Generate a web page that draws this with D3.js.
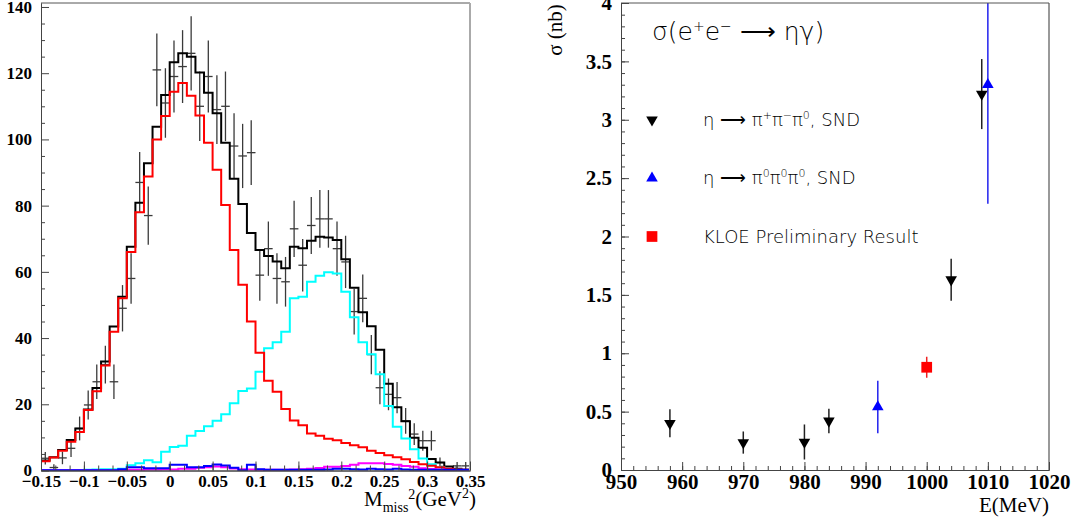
<!DOCTYPE html>
<html>
<head>
<meta charset="utf-8">
<script src="https://cdn.jsdelivr.net/npm/d3@7"></script>
<style>
body { margin: 0; background: #fff; }
svg { display: block; }
.title, .leg { font-family: "DejaVu Sans", sans-serif; font-weight: 200; fill: #000; }
.axlabel { font-family: "Liberation Serif", "Times New Roman", serif; fill: #000; }
</style>
</head>
<body>
<svg id="chart" width="1079" height="527"></svg>
<script>
// left panel: missing mass squared, 50 bins of 0.01 GeV^2
var massEdges = d3.range(50).map(function (i) { return Math.round((-0.15 + i * 0.01) * 100) / 100; });
var binWidth = 0.01;

// data points + errors
var dataCounts = [3.7, 0.9, 3.8, 6.7, 12.7, 19.8, 26.8, 32.0, 26.8, 49.0,
    58.0, 87.0, 77.0, 121.0, 111.0, 119.0, 122.0, 126.0, 110.0, 119.0,
    109.0, 110.0, 98.0, 95.0, 96.0, 59.0, 67.0, 58.0, 57.0, 73.0,
    62.0, 74.0, 76.0, 76.0, 67.0, 63.0, 48.0, 52.0, 35.0, 25.0,
    23.0, 22.0, 15.0, 11.0, 9.0, 9.0, 2.4, null, 1.4, 1.4];
var dataErrors = [1.9, 1.0, 1.9, 2.6, 3.6, 4.4, 5.2, 5.7, 5.2, 7.0,
    7.6, 9.2, 8.8, 11.0, 10.5, 10.9, 11.0, 11.2, 10.5, 10.9,
    10.4, 10.5, 9.9, 9.7, 9.8, 7.7, 8.2, 7.6, 7.5, 8.5,
    7.9, 8.6, 8.7, 8.7, 8.2, 7.9, 6.9, 7.2, 5.9, 5.0,
    4.8, 4.7, 3.9, 3.3, 3.0, 3.0, 1.5, 0, 1.2, 1.2];

// MC histograms
var totalMC = [3.0, 4.0, 6.2, 9.2, 12.7, 18.4, 24.9, 32.9, 43.5, 52.5,
    67.6, 80.9, 92.8, 103.8, 113.4, 123.3, 126.0, 125.0, 120.2, 114.1,
    107.9, 99.0, 88.1, 80.5, 71.7, 66.6, 64.8, 63.1, 61.1, 67.6,
    67.1, 69.4, 70.6, 70.4, 69.6, 63.8, 55.2, 47.8, 43.6, 36.5,
    26.2, 19.1, 14.9, 9.9, 6.9, 3.5, 2.4, 1.2, 0.5, 0.2];
var redMC = [2.8, 3.9, 6.0, 8.7, 11.6, 18.3, 23.9, 31.7, 41.9, 52.0,
    66.0, 78.0, 88.8, 100.0, 107.1, 114.4, 117.0, 113.2, 107.2, 99.0,
    90.8, 80.2, 66.6, 56.1, 45.0, 35.6, 27.1, 23.8, 18.6, 15.1,
    13.7, 11.2, 10.5, 9.6, 9.1, 8.3, 7.6, 7.0, 6.0, 5.3,
    4.6, 4.0, 3.4, 2.6, 1.9, 1.4, 1.0, 0.5, 0.3, 0.2];
var cyanMC = [0.1, 0.1, 0.1, 0.1, 0.1, 0.2, 0.3, 0.4, 0.4, 0.5,
    1.6, 2.2, 3.1, 2.5, 5.7, 7.1, 7.5, 10.5, 11.9, 13.4,
    15.0, 17.0, 20.3, 24.0, 24.8, 29.8, 36.9, 38.7, 41.9, 52.0,
    52.5, 57.0, 58.8, 59.9, 59.5, 54.0, 46.3, 38.7, 35.1, 29.1,
    19.5, 13.2, 9.7, 6.4, 3.6, 1.9, 1.0, 0.4, 0.2, 0.1];
var magentaMC = [0.05, 0.05, 0.05, 0.05, 0.05, 0.05, 0.05, 0.05, 0.05, 0.05,
    0.2, 0.2, 0.3, 0.3, 0.4, 0.3, 0.5, 0.5, 0.8, 1.0,
    1.2, 1.0, 0.6, 0.4, 0.3, 0.2, 0.2, 0.2, 0.2, 0.3,
    0.4, 0.5, 0.75, 1.15, 1.15, 1.35, 1.7, 2.2, 2.2, 2.2,
    2.0, 1.7, 1.35, 1.15, 0.65, 0.45, 0.3, 0.15, 0.1, 0.05];
var blueMC = [0.05, 0.05, 0.05, 0.05, 0.05, 0.05, 0.05, 0.05, 0.05, 0.4,
    1.0, 1.0, 0.7, 0.7, 0.7, 1.7, 1.7, 1.0, 1.0, 1.35,
    1.8, 1.5, 0.8, 0.1, 1.7, 0.4, 0.2, 0.2, 0.2, 0.2,
    0.2, 0.2, 0.2, 0.3, 0.5, 0.5, 0.4, 0.3, 0.5, 0.4,
    0.3, 0.5, 0.3, 0.2, 0.2, 0.2, 0.2, 0.2, 0.2, 0.2];

var massTicks = [-0.15, -0.1, -0.05, 0, 0.05, 0.1, 0.15, 0.2, 0.25, 0.3, 0.35];
var countTicks = [0, 20, 40, 60, 80, 100, 120, 140];

// right panel: sigma(e+e- -> eta gamma)
var sndChargedE = [958, 970, 980, 984, 1004, 1009];
var sndChargedSigma = [0.40, 0.235, 0.24, 0.42, 1.63, 3.22];
var sndChargedErr = [0.12, 0.095, 0.15, 0.105, 0.18, 0.30];
var sndNeutralE = [992, 1010];
var sndNeutralSigma = [0.54, 3.30];
var sndNeutralErr = [0.225, 1.02];
var kloeE = [1000];
var kloeSigma = [0.88];
var kloeErr = [0.09];

var energyTicks = [950, 960, 970, 980, 990, 1000, 1010, 1020];
var sigmaTicks = [0, 0.5, 1, 1.5, 2, 2.5, 3, 3.5, 4];

var svg = d3.select("#chart");

function styleTicks(size) {
    return function (g) {
        g.selectAll("path, line").attr("stroke", "#444");
        g.selectAll("text")
            .style("font-family", "'Liberation Serif', 'Times New Roman', serif")
            .style("font-weight", "bold")
            .style("font-size", size + "px")
            .attr("fill", "#000");
    };
}

// ---------- left panel ----------
var xL = d3.scaleLinear().domain([-0.15, 0.35]).range([41, 470]);
var yL = d3.scaleLinear().domain([0, 141.2]).range([470.5, 3]);

svg.append("clipPath").attr("id", "clipL").append("rect")
    .attr("x", 41).attr("y", 3).attr("width", 429).attr("height", 468);

var left = svg.append("g");
var plotL = left.append("g").attr("clip-path", "url(#clipL)");

// data crosses
massEdges.forEach(function (e, i) {
    var v = dataCounts[i];
    if (v === null) return;
    var err = dataErrors[i];
    plotL.append("line")
        .attr("x1", xL(e + binWidth / 2)).attr("x2", xL(e + binWidth / 2))
        .attr("y1", yL(Math.max(0, v - err))).attr("y2", yL(v + err))
        .attr("stroke", "#3a3a3a").attr("stroke-width", 1.3);
    plotL.append("line")
        .attr("x1", xL(e)).attr("x2", xL(e + binWidth))
        .attr("y1", yL(v)).attr("y2", yL(v))
        .attr("stroke", "#3a3a3a").attr("stroke-width", 1.3);
});

function stepPoints(vals) {
    var pts = [[massEdges[0], 0]];
    vals.forEach(function (v, i) { pts.push([massEdges[i], v]); });
    pts.push([massEdges[massEdges.length - 1] + binWidth, vals[vals.length - 1]]);
    pts.push([massEdges[massEdges.length - 1] + binWidth, 0]);
    return pts;
}
var histLine = d3.line()
    .x(function (d) { return xL(d[0]); })
    .y(function (d) { return yL(d[1]); })
    .curve(d3.curveStepAfter);

[[totalMC, "#000000"], [cyanMC, "#00ffff"], [redMC, "#ff0000"],
 [magentaMC, "#ff00ff"], [blueMC, "#0000ff"]].forEach(function (h) {
    plotL.append("path")
        .attr("d", histLine(stepPoints(h[0])))
        .attr("fill", "none")
        .attr("stroke", h[1])
        .attr("stroke-width", 2);
});

// frame
left.append("line").attr("x1", 41).attr("x2", 470).attr("y1", 3).attr("y2", 3)
    .attr("stroke", "#555").attr("stroke-width", 1);
left.append("line").attr("x1", 470).attr("x2", 470).attr("y1", 3).attr("y2", 471)
    .attr("stroke", "#aaa").attr("stroke-width", 2);

// axes
var yMinorL = d3.range(5, 141, 5).filter(function (v) { return v % 20 !== 0; });
left.append("g").attr("transform", "translate(41,0)")
    .call(d3.axisLeft(yL).tickValues(yMinorL).tickSizeInner(-4).tickSizeOuter(0).tickFormat(""))
    .call(styleTicks(17));
left.append("g").attr("transform", "translate(41,0)")
    .call(d3.axisLeft(yL).tickValues(countTicks).tickSizeInner(-8).tickSizeOuter(0).tickPadding(9))
    .call(styleTicks(17));

var xMinorL = d3.range(-0.15, 0.35, 0.05 / 3);
left.append("g").attr("transform", "translate(0,470.5)")
    .call(d3.axisBottom(xL).tickValues(xMinorL).tickSizeInner(-5).tickSizeOuter(0).tickFormat(""))
    .call(styleTicks(17));
left.append("g").attr("transform", "translate(0,470.5)")
    .call(d3.axisBottom(xL).tickValues(massTicks).tickSizeInner(-9).tickSizeOuter(0).tickPadding(4)
        .tickFormat(function (d) { return d3.format("")(d); }))
    .call(styleTicks(17));

var lblL = left.append("text").attr("class", "axlabel")
    .attr("x", 476).attr("y", 506).attr("text-anchor", "end").style("font-size", "21px");
lblL.append("tspan").text("M");
lblL.append("tspan").attr("dy", 6).style("font-size", "14px").text("miss");
lblL.append("tspan").attr("dy", -13).style("font-size", "14px").text("2");
lblL.append("tspan").attr("dy", 7).text("(GeV");
lblL.append("tspan").attr("dy", -8).style("font-size", "14px").text("2");
lblL.append("tspan").attr("dy", 8).text(")");

// ---------- right panel ----------
var xR = d3.scaleLinear().domain([950, 1020]).range([621, 1049]);
var yR = d3.scaleLinear().domain([0, 4]).range([470, 3]);

svg.append("clipPath").attr("id", "clipR").append("rect")
    .attr("x", 621).attr("y", 3).attr("width", 428).attr("height", 467);

var right = svg.append("g");
var plotR = right.append("g").attr("clip-path", "url(#clipR)");

right.append("line").attr("x1", 621).attr("x2", 1049).attr("y1", 3).attr("y2", 3)
    .attr("stroke", "#555").attr("stroke-width", 1);
right.append("line").attr("x1", 1049).attr("x2", 1049).attr("y1", 3).attr("y2", 470)
    .attr("stroke", "#555").attr("stroke-width", 1.2);

var yMinorR = d3.range(0.1, 4, 0.1);
right.append("g").attr("transform", "translate(621,0)")
    .call(d3.axisLeft(yR).tickValues(yMinorR).tickSizeInner(-4).tickSizeOuter(0).tickFormat(""))
    .call(styleTicks(21));
right.append("g").attr("transform", "translate(621,0)")
    .call(d3.axisLeft(yR).tickValues(sigmaTicks).tickSizeInner(-8).tickSizeOuter(0).tickPadding(9)
        .tickFormat(function (d) { return d3.format("")(d); }))
    .call(styleTicks(21));

var xMinorR = d3.range(952, 1020, 2);
right.append("g").attr("transform", "translate(0,470)")
    .call(d3.axisBottom(xR).tickValues(xMinorR).tickSizeInner(-4).tickSizeOuter(0).tickFormat(""))
    .call(styleTicks(21));
right.append("g").attr("transform", "translate(0,470)")
    .call(d3.axisBottom(xR).tickValues(energyTicks).tickSizeInner(-8).tickSizeOuter(0).tickPadding(4)
        .tickFormat(d3.format("d")))
    .call(styleTicks(21));

right.append("text").attr("class", "axlabel")
    .attr("x", 1049).attr("y", 512).attr("text-anchor", "end").style("font-size", "21px")
    .text("E(MeV)");
right.append("text").attr("class", "axlabel")
    .attr("transform", "translate(562,30) rotate(-90)")
    .attr("text-anchor", "middle").style("font-size", "21px")
    .text("σ (nb)");

// title
var title = right.append("text").attr("class", "title")
    .attr("x", 652).attr("y", 40).style("font-size", "25px");
title.append("tspan").text("σ(e");
title.append("tspan").attr("dy", -9).style("font-size", "14px").text("+");
title.append("tspan").attr("dy", 9).text("e");
title.append("tspan").attr("dy", -9).style("font-size", "14px").text("−");
title.append("tspan").attr("dy", 9).text(" ⟶ ηγ)");

var triUp = d3.symbol().type(d3.symbolTriangle).size(58);
var square = d3.symbol().type(d3.symbolSquare).size(115);

function errBars(xs, ys, es, color) {
    xs.forEach(function (x, i) {
        plotR.append("line")
            .attr("x1", xR(x)).attr("x2", xR(x))
            .attr("y1", yR(ys[i] - es[i])).attr("y2", yR(ys[i] + es[i]))
            .attr("stroke", color).attr("stroke-width", 1.5);
    });
}
errBars(sndChargedE, sndChargedSigma, sndChargedErr, "#222");
errBars(sndNeutralE, sndNeutralSigma, sndNeutralErr, "#2222ee");
errBars(kloeE, kloeSigma, kloeErr, "#ee2222");

sndChargedE.forEach(function (x, i) {
    plotR.append("path").attr("d", triUp())
        .attr("transform", "translate(" + xR(x) + "," + yR(sndChargedSigma[i]) + ") rotate(180)")
        .attr("fill", "#000");
});
sndNeutralE.forEach(function (x, i) {
    plotR.append("path").attr("d", triUp())
        .attr("transform", "translate(" + xR(x) + "," + yR(sndNeutralSigma[i]) + ")")
        .attr("fill", "#0000ff");
});
kloeE.forEach(function (x, i) {
    plotR.append("path").attr("d", square())
        .attr("transform", "translate(" + xR(x) + "," + yR(kloeSigma[i]) + ")")
        .attr("fill", "#ff0000");
});

// legend
var legX = 652, legTextX = 703;
right.append("path").attr("d", triUp())
    .attr("transform", "translate(" + legX + "," + yR(3) + ") rotate(180)").attr("fill", "#000");
right.append("path").attr("d", triUp())
    .attr("transform", "translate(" + legX + "," + yR(2.5) + ")").attr("fill", "#0000ff");
right.append("path").attr("d", square())
    .attr("transform", "translate(" + legX + "," + yR(2) + ")").attr("fill", "#ff0000");

function legText(y, parts) {
    var t = right.append("text").attr("class", "leg")
        .attr("x", legTextX).attr("y", y + 6).style("font-size", "18px");
    parts.forEach(function (p) {
        var s = t.append("tspan").text(p[0]);
        if (p[1] === "sup") s.attr("dy", -7).style("font-size", "11px");
        if (p[1] === "base") s.attr("dy", 7);
    });
}
legText(yR(3), [["η ⟶ π"], ["+", "sup"], ["π", "base"], ["−", "sup"], ["π", "base"], ["0", "sup"], [", SND", "base"]]);
legText(yR(2.5), [["η ⟶ π"], ["0", "sup"], ["π", "base"], ["0", "sup"], ["π", "base"], ["0", "sup"], [", SND", "base"]]);
legText(yR(2), [["KLOE Preliminary Result"]]);
</script>
</body>
</html>
